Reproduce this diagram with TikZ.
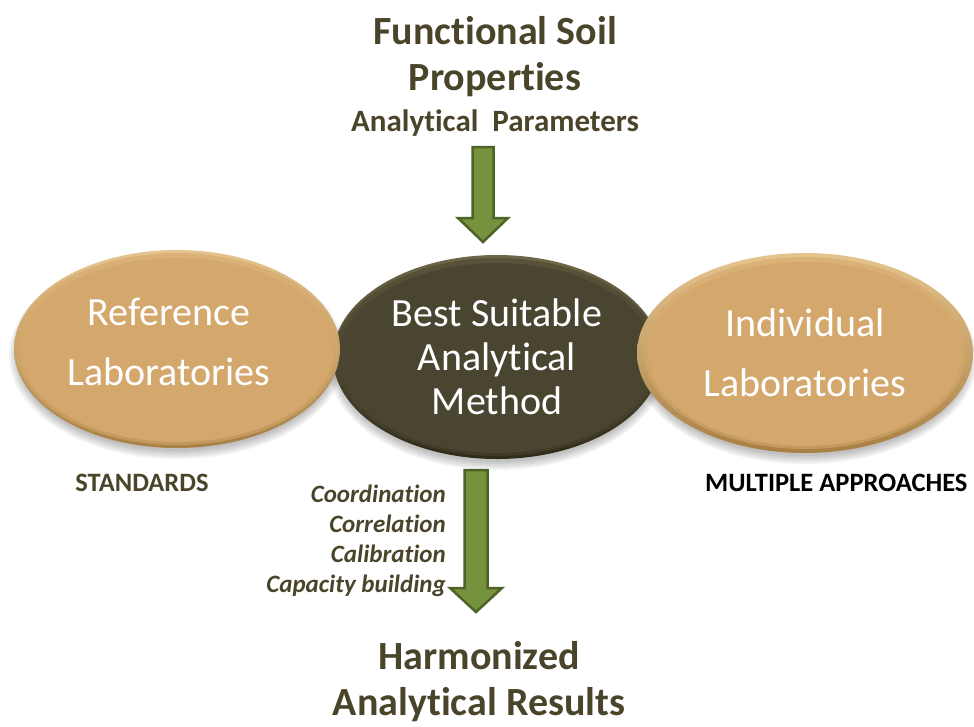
\documentclass[tikz,border=0pt]{standalone}
\usepackage{fontspec}
\setmainfont{Carlito}[Ligatures=NoCommon]
\usetikzlibrary{shapes.geometric}
\definecolor{olivetext}{HTML}{4A452A}
\definecolor{tanfill}{HTML}{D4A86C}
\definecolor{tanlight}{HTML}{E6C48E}
\definecolor{tandark}{HTML}{A88045}
\definecolor{darkfill}{HTML}{4A4530}
\definecolor{darklight}{HTML}{6E6848}
\definecolor{darkdark}{HTML}{2E2B1A}
\definecolor{arrowfill}{HTML}{76923C}
\definecolor{arrowedge}{HTML}{4F6228}
\tikzset{
  labellipse/.style={ellipse, inner sep=0pt, align=center, text=white,
    minimum width=326pt, minimum height=198pt,
    top color=tanlight, bottom color=tandark,
    path picture={
      \fill[tanfill,opacity=0.6] (path picture bounding box.center) ellipse (161pt and 96pt);
      \fill[tanfill] ([yshift=-1pt]path picture bounding box.center) ellipse (157pt and 92pt);
    },
    font=\fontsize{40}{60}\selectfont},
  coreellipse/.style={ellipse, inner sep=0pt, align=center, text=white,
    minimum width=328pt, minimum height=204pt,
    top color=darklight, bottom color=darkdark,
    path picture={
      \fill[darkfill,opacity=0.6] (path picture bounding box.center) ellipse (162pt and 99pt);
      \fill[darkfill] ([yshift=-1pt]path picture bounding box.center) ellipse (158pt and 95pt);
    },
    font=\fontsize{40}{44}\selectfont},
  blockarrow/.style={fill=arrowfill, draw=arrowedge, line width=2.5pt, line join=miter},
  heading/.style={text=olivetext, font=\bfseries\fontsize{40}{46}\selectfont, align=center, inner sep=0pt},
  subheading/.style={text=olivetext, font=\bfseries\fontsize{31}{36}\selectfont, inner sep=0pt},
  sidelabel/.style={font=\bfseries\fontsize{26.5}{30}\selectfont, inner sep=0pt},
  steplist/.style={text=olivetext, font=\bfseries\itshape\fontsize{25}{30}\selectfont, align=right, inner sep=0pt},
  softshadow/.style={fill=black, opacity=0.05}
}
\begin{document}
\begin{tikzpicture}[x=1pt,y=-1pt]
\useasboundingbox[fill=white] (0,0) rectangle (974,726);

% shadows
\foreach \d in {0,2,4,6,8}{
  \fill[softshadow] (497,363) ellipse ({165+\d-4} and {103+\d-4});
  \fill[softshadow] (177,355) ellipse ({164+\d-4} and {100+\d-4});
  \fill[softshadow] (805,359) ellipse ({168+\d-4} and {101+\d-4});
}

% headings
\node[heading, anchor=north] (props) at (495,16) {Functional Soil\\Properties};
\node[subheading, anchor=base] (params) at (495,131) {Analytical\ \ Parameters};

% ellipses
\node[coreellipse] (core) at (497,357) {Best Suitable\\Analytical\\Method};
\node[labellipse] (reflab) at (177,349) {Reference\hspace*{16pt}\\Laboratories\hspace*{16pt}\rule[-14pt]{0pt}{14pt}};
\node[labellipse, minimum width=336pt, minimum height=200pt] (indlab) at (805,353) {Individual\\Laboratories};

% side labels
\node[sidelabel, text=olivetext, anchor=base] (standards) at (142,491) {STANDARDS};
\node[sidelabel, text=black, anchor=base west] (multiple) at (705,491) {MULTIPLE APPROACHES};

% list
\node[steplist, anchor=north east] (steps) at (446,485) {Coordination\\Correlation\\Calibration\\Capacity building};

% results
\node[heading, anchor=north] (results) at (479,641) {Harmonized\\Analytical Results};

% arrows
\coordinate (topstart) at (483,147);
\coordinate (botstart) at (476,470);
\draw[blockarrow] ([xshift=-10.5pt]topstart) -- ++(21,0) -- ++(0,71) -- ++(14.5,0) -- ++(-25,24) -- ++(-25,-24) -- ++(14.5,0) -- cycle;
\draw[blockarrow] ([xshift=-11.5pt]botstart) -- ++(23,0) -- ++(0,118) -- ++(14.5,0) -- ++(-26,24) -- ++(-26,-24) -- ++(14.5,0) -- cycle;
\end{tikzpicture}
\end{document}
